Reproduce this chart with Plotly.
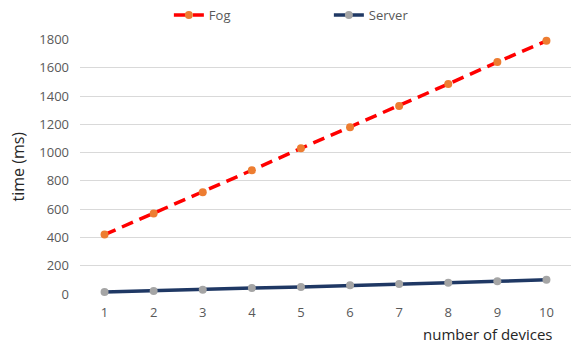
import plotly.graph_objects as go

# Response time versus number of connected devices
devices = [1, 2, 3, 4, 5, 6, 7, 8, 9, 10]
fog_ms = [420, 570, 720, 875, 1030, 1180, 1330, 1485, 1640, 1790]
server_ms = [15, 22, 30, 42, 50, 62, 70, 80, 90, 100]
y_ticks = [0, 200, 400, 600, 800, 1000, 1200, 1400, 1600, 1800]

FONT = "Open Sans"
TICK_COLOR = "#595959"

fig = go.Figure()
fig.add_trace(go.Scatter(
    x=devices, y=fog_ms, name="Fog", mode="lines+markers",
    line=dict(color="#FF0000", width=3.5, dash="12px,7px"),
    marker=dict(color="#ED7D31", size=8),
    cliponaxis=False,
))
fig.add_trace(go.Scatter(
    x=devices, y=server_ms, name="Server", mode="lines+markers",
    line=dict(color="#1F3864", width=3.5),
    marker=dict(color="#A5A5A5", size=8),
    cliponaxis=False,
))

fig.update_layout(
    width=571, height=345,
    margin=dict(l=80, r=0, t=37, b=51),
    paper_bgcolor="white", plot_bgcolor="white",
    font=dict(family=FONT, color=TICK_COLOR, size=12),
    showlegend=True,
    legend=dict(
        orientation="h", x=0.181, xanchor="left", y=1.0, yanchor="top",
        yref="container", entrywidth=115, entrywidthmode="pixels",
        font=dict(family=FONT, size=13, color=TICK_COLOR),
        bgcolor="rgba(0,0,0,0)",
    ),
    xaxis=dict(
        range=[0.5, 10.5], tickmode="array", tickvals=devices,
        showgrid=False, zeroline=False, showline=False,
        ticks="", ticklabelstandoff=9,
        tickfont=dict(family=FONT, size=13, color=TICK_COLOR),
    ),
    yaxis=dict(
        range=[0, 1800], tickmode="array", tickvals=y_ticks,
        showgrid=True, gridcolor="#D9D9D9", gridwidth=1,
        zeroline=False, showline=False, ticks="", ticklabelstandoff=10,
        tickfont=dict(family=FONT, size=13, color=TICK_COLOR),
        title=dict(text="time (ms)", standoff=10,
                   font=dict(family=FONT, size=16, color="#262626")),
    ),
)

fig.add_annotation(
    text="number of devices", xref="paper", yref="paper",
    x=1.0, xanchor="right", y=-0.11, yanchor="top",
    xshift=-16, showarrow=False,
    font=dict(family=FONT, size=15, color="#262626"),
)

fig.write_html("out.html")
